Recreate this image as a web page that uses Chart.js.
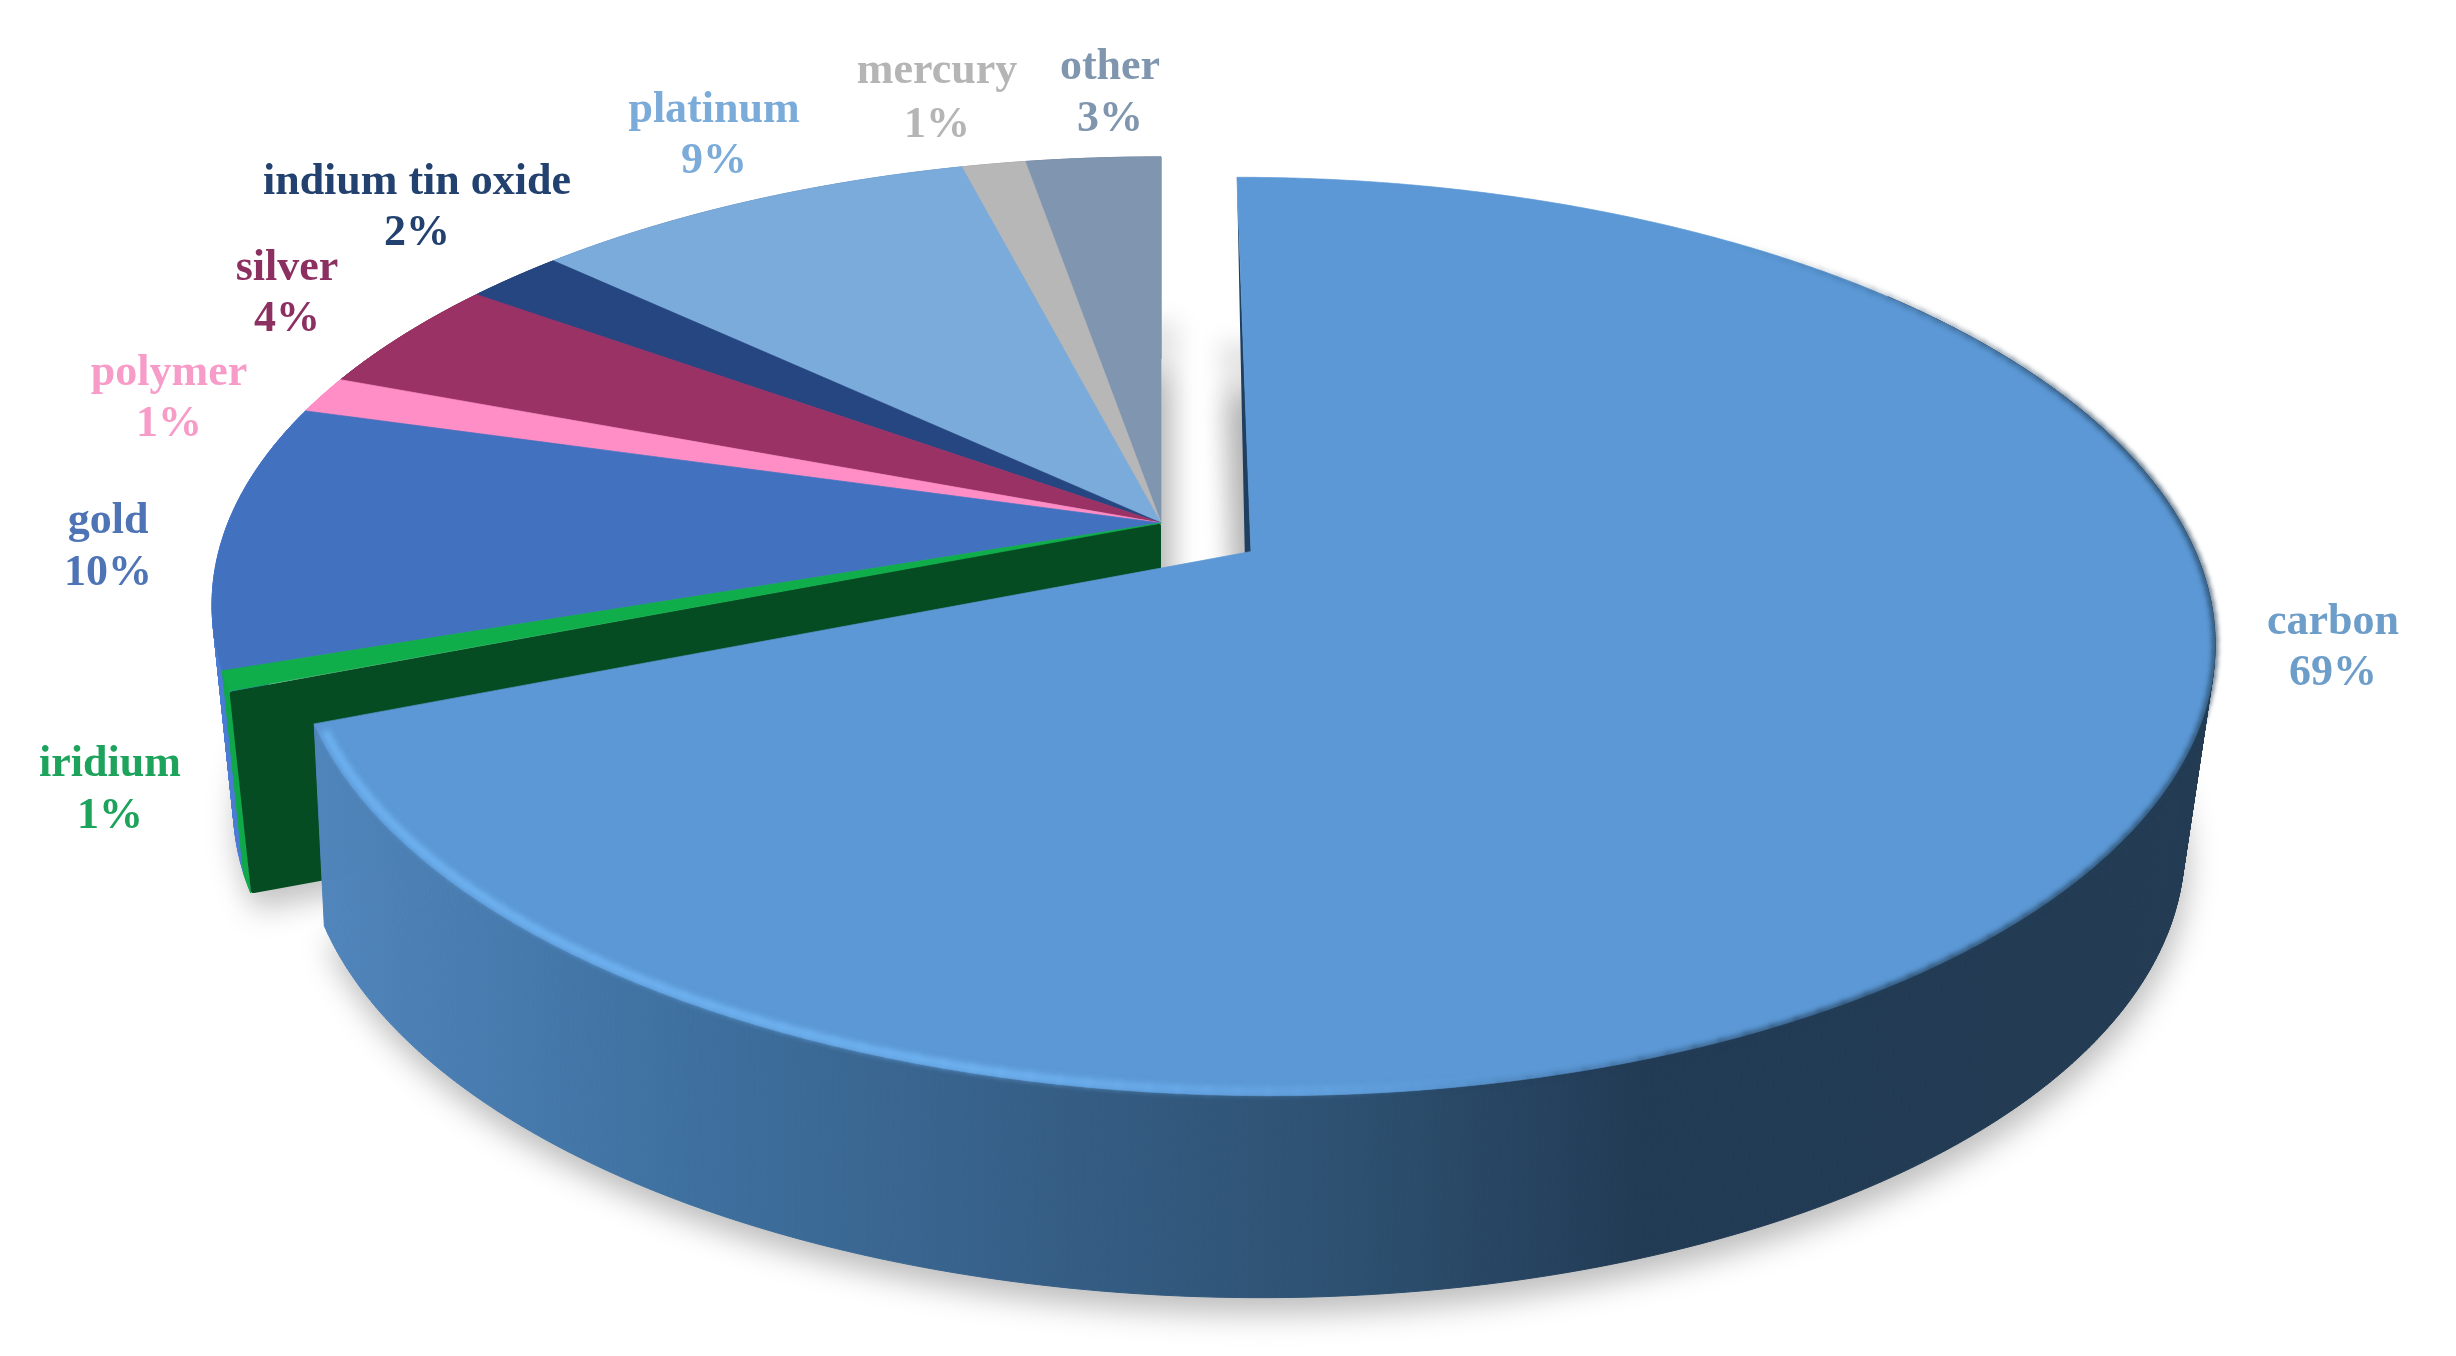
<!DOCTYPE html>
<html>
<head>
<meta charset="utf-8">
<style>
html,body{margin:0;padding:0;background:#fff;}
canvas{display:block;filter:blur(0.7px);}
</style>
<script src="https://cdn.jsdelivr.net/npm/chart.js@4"></script>
</head>
<body>
<canvas id="c" width="2456" height="1356"></canvas>
<script>
const categories = ["carbon","iridium","gold","polymer","silver","indium tin oxide","platinum","mercury","other"];
const values = [69.2,0.7,9.6,1.35,4.2,2.0,9.05,1.3,2.75];
const valueLabels = ["69%","1%","10%","1%","4%","2%","9%","1%","3%"];
const explode = [74,0,0,0,0,0,0,0,0];
const topColors = ["#5b98d5","#0fae4b","#4271c0","#ff8ec6","#9a3265","#254680","#7aabdb","#b7b7b7","#8096b0"];
const wallColors = ["#3b6d9c","#10a94a","#4a7cd4","#e87fb3","#7d2a53","#1e3a6a","#6792bd","#9a9a9a","#6b7f96"];
const textColors = ["#6d9dc9","#1ea35c","#4f74b5","#f79cc8","#8b3060","#22416f","#7aabd9","#b5b5b5","#7f96ae"];
const cutFaceColor = "#054c22";
const sliverColor = "#1f3f60";
const wallStops = [[0,"#5186bd"],[0.2,"#3e709f"],[0.38,"#365f87"],[0.55,"#2d5070"],[0.7,"#223b55"],[1,"#233c53"]];

// perspective view of the pie's top plane and of the bottom planes of the two pieces
const topPlane = {cx:1161,cy:523,a:933,b:433,k:0.1827};
const lowRest = {cx:1161,cy:725,a:912,b:433,k:0.1827};
const lowExploded = {cx:1153,cy:725,a:913,b:433,k:0.1827};
const project = (p,u,v)=>{const d=1-p.k*v;return [p.cx+p.a*u/d,p.cy+p.b*v/d];};

// label anchors (centre x, first baseline, second baseline)
const labelAnchors = [[2333,634,685],[110,776,828],[108,533,585],[169,385,436],[287,280,331],[417,194,245],[714,122,173],[937,83,137],[1110,79,131]];
const labelFont = "bold 44px 'Liberation Serif'";

function geom(el){
  const o=(el.options.offset||0)/el.outerRadius, mid=(el.startAngle+el.endAngle)/2;
  return {du:o*Math.cos(mid),dv:o*Math.sin(mid),s:el.startAngle,e:el.endAngle};
}
function rim(g,plane,from,to,scale){
  const n=Math.max(2,Math.ceil(Math.abs(to-from)/0.006)),pts=[];
  const r=scale||1;
  for(let i=0;i<=n;i++){const t=from+(to-from)*i/n;pts.push(project(plane,g.du+r*Math.cos(t),g.dv+r*Math.sin(t)));}
  return pts;
}
function poly(ctx,pts){ctx.beginPath();pts.forEach((p,i)=>i?ctx.lineTo(p[0],p[1]):ctx.moveTo(p[0],p[1]));ctx.closePath();}
function wedge(g,plane){return [project(plane,g.du,g.dv),...rim(g,plane,g.s,g.e)];}
function wall(ctx,g,low,style,from){
  const s=from===undefined?g.s:Math.max(g.s,from);
  const a=rim(g,topPlane,s,g.e),b=rim(g,low,s,g.e);
  ctx.fillStyle=style;ctx.strokeStyle=style;ctx.lineWidth=1;
  for(let i=0;i<a.length-1;i++){poly(ctx,[a[i],a[i+1],b[i+1],b[i]]);ctx.fill();ctx.stroke();}
}
function polyline(ctx,pts){ctx.beginPath();pts.forEach((p,i)=>i?ctx.lineTo(p[0],p[1]):ctx.moveTo(p[0],p[1]));ctx.stroke();}

const pie3d = {
  id:"pie3d",
  beforeDatasetDraw(chart){
    const ctx=chart.ctx, arcs=chart.getDatasetMeta(0).data, gs=arcs.map(geom);
    const deg=Math.PI/180;
    ctx.save();
    // soft ground shadow
    ctx.save();
    ctx.filter="blur(15px)";
    ctx.fillStyle="rgba(0,0,0,0.26)";
    ctx.translate(3,16);
    gs.forEach((g,i)=>{poly(ctx,wedge(g,i?lowRest:lowExploded));ctx.fill();});
    ctx.restore();
    // shadow seen through the gap left by the exploded slice
    const gapApex=project(topPlane,gs[0].du,gs[0].dv);
    ctx.save();
    ctx.beginPath();ctx.rect(topPlane.cx,280,gapApex[0]-topPlane.cx,320);ctx.clip();
    ctx.filter="blur(11px)";
    ctx.fillStyle="rgba(0,0,0,0.10)";
    ctx.save();ctx.translate(18,-38);
    for(let i=1;i<gs.length;i++){poly(ctx,wedge(gs[i],lowRest));ctx.fill();}
    ctx.restore();
    ctx.save();ctx.translate(-8,-38);
    poly(ctx,wedge(gs[0],lowExploded));ctx.fill();
    ctx.restore();
    ctx.restore();
    // remaining pie walls, far slices first
    for(let i=gs.length-1;i>=1;i--) wall(ctx,gs[i],lowRest,wallColors[i]);
    // cut face revealed by the exploded slice
    const s1=gs[1];
    const a0=project(topPlane,s1.du,s1.dv), a1=project(topPlane,s1.du+Math.cos(s1.s),s1.dv+Math.sin(s1.s));
    const b0=project(lowRest,s1.du,s1.dv), b1=project(lowRest,s1.du+Math.cos(s1.s),s1.dv+Math.sin(s1.s));
    ctx.fillStyle=cutFaceColor;ctx.strokeStyle=cutFaceColor;ctx.lineWidth=6;ctx.lineJoin="round";
    poly(ctx,[[a0[0]-3,a0[1]+3],[a1[0]+3,a1[1]+3],[b1[0]+3,b1[1]-3],[b0[0]-3,b0[1]]]);ctx.fill();ctx.stroke();
    // remaining pie tops
    for(let i=gs.length-1;i>=1;i--){
      ctx.fillStyle=topColors[i];ctx.strokeStyle=topColors[i];ctx.lineWidth=0.7;
      poly(ctx,wedge(gs[i],topPlane));ctx.fill();ctx.stroke();
    }
    // exploded slice
    const g=gs[0];
    const grad=ctx.createLinearGradient(304,0,2214,0);
    wallStops.forEach(s=>grad.addColorStop(s[0],s[1]));
    wall(ctx,g,lowExploded,grad,-40*deg);
    const apex=project(topPlane,g.du,g.dv), rimStart=project(topPlane,g.du+Math.cos(g.s),g.dv+Math.sin(g.s)), lowApex=project(lowRest,g.du,g.dv);
    ctx.fillStyle=sliverColor;poly(ctx,[rimStart,lowApex,apex]);ctx.fill();
    ctx.fillStyle=topColors[0];ctx.strokeStyle=topColors[0];ctx.lineWidth=0.7;
    poly(ctx,wedge(g,topPlane));ctx.fill();ctx.stroke();
    // bevel: dark edge on the right, light edge on the lower left
    ctx.lineCap="butt";ctx.lineJoin="round";
    ctx.save();
    ctx.filter="blur(2.5px)";
    for(let t=-55*deg;t<82*deg;t+=1.5*deg){
      const d=t/deg;
      const alpha=(d<-15?Math.max(0,(d+55)/40):(d>60?Math.max(0,(82-d)/22):1))*0.8;
      ctx.strokeStyle="rgba(35,62,88,"+alpha.toFixed(3)+")";
      ctx.lineWidth=5;
      polyline(ctx,rim(g,topPlane,t,t+1.7*deg));
    }
    ctx.restore();
    ctx.save();
    ctx.filter="blur(3px)";
    for(let t=g.e-1*deg;t>80*deg;t-=1.5*deg){
      const alpha=t>105*deg?0.95:Math.max(0,(t-80*deg)/(25*deg))*0.95;
      ctx.strokeStyle="rgba(116,184,248,"+alpha.toFixed(3)+")";
      ctx.lineWidth=7;
      polyline(ctx,rim(g,topPlane,t,t-1.7*deg,0.993));
    }
    ctx.restore();
    ctx.restore();
    return false;
  },
  afterDatasetsDraw(chart){
    const ctx=chart.ctx;
    ctx.save();
    ctx.font=labelFont;ctx.textAlign="center";ctx.textBaseline="alphabetic";
    categories.forEach((name,i)=>{
      const p=labelAnchors[i];
      ctx.fillStyle=textColors[i];
      ctx.fillText(name,p[0],p[1]);
      ctx.fillText(valueLabels[i],p[0],p[2]);
    });
    ctx.restore();
  }
};

new Chart(document.getElementById("c"),{
  type:"pie",
  data:{labels:categories,datasets:[{data:values,backgroundColor:topColors,offset:explode,borderWidth:0}]},
  options:{responsive:false,animation:false,rotation:0,
    plugins:{legend:{display:false},tooltip:{enabled:false}},
    layout:{padding:0}},
  plugins:[pie3d]
});
</script>
</body>
</html>
